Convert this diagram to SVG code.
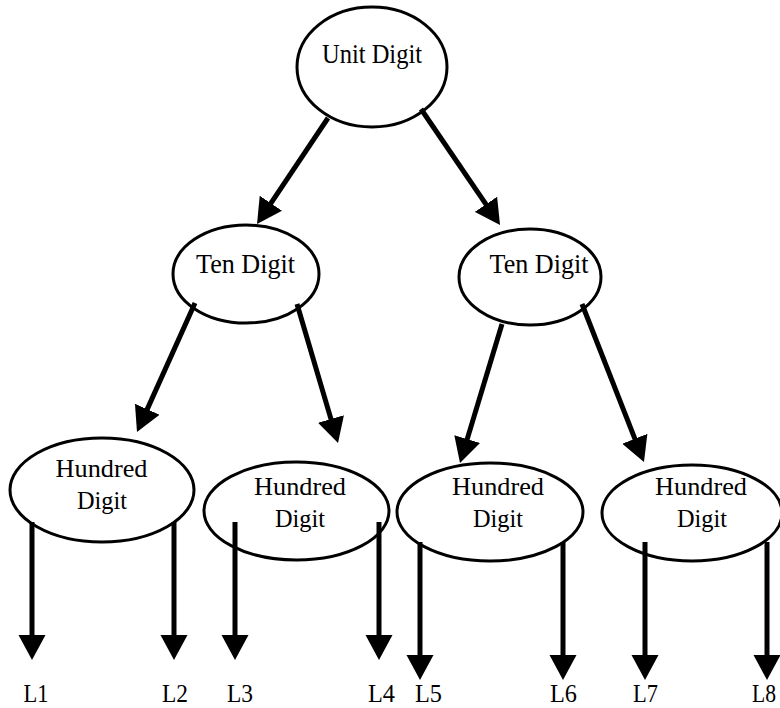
<svg xmlns="http://www.w3.org/2000/svg" width="780" height="708" viewBox="0 0 780 708">
<style>
.node ellipse{fill:#fff;stroke:#000;stroke-width:3}
text{font-family:"Liberation Serif","Times New Roman",serif;fill:#000;text-anchor:middle}
.t1{font-size:27px}
.t2{font-size:26px}
.lab{font-size:26px}
#connectors line{stroke:#000;stroke-width:5;fill:none;marker-end:url(#ah)}
</style>
<defs>
<marker id="ah" markerUnits="userSpaceOnUse" markerWidth="26" markerHeight="28" viewBox="0 0 26 28" refX="15" refY="14" orient="auto">
<path d="M0,0.5 L25,14 L0,27.5 z" fill="#000"/>
</marker>
</defs>
<rect width="780" height="708" fill="#fff"/>
<g id="unit" class="node"><ellipse cx="372" cy="67" rx="75" ry="60"/><text class="t1" x="372" y="63" textLength="100" lengthAdjust="spacingAndGlyphs">Unit Digit</text></g>
<g id="ten1" class="node"><ellipse cx="246" cy="274" rx="73" ry="49"/><text class="t1" x="245.5" y="273" textLength="99" lengthAdjust="spacingAndGlyphs">Ten Digit</text></g>
<g id="ten2" class="node"><ellipse cx="530" cy="277" rx="71" ry="48"/><text class="t1" x="539" y="273" textLength="99" lengthAdjust="spacingAndGlyphs">Ten Digit</text></g>
<g id="h1" class="node"><ellipse cx="102" cy="490" rx="92" ry="52"/><text class="t2" x="101.5" y="477" textLength="92" lengthAdjust="spacingAndGlyphs">Hundred</text><text class="t2" x="102" y="509" textLength="50" lengthAdjust="spacingAndGlyphs">Digit</text></g>
<g id="h2" class="node"><ellipse cx="296.5" cy="511" rx="92.5" ry="49"/><text class="t2" x="300" y="495" textLength="92" lengthAdjust="spacingAndGlyphs">Hundred</text><text class="t2" x="300" y="527" textLength="50" lengthAdjust="spacingAndGlyphs">Digit</text></g>
<g id="h3" class="node"><ellipse cx="490" cy="512" rx="93" ry="49"/><text class="t2" x="498" y="495" textLength="92" lengthAdjust="spacingAndGlyphs">Hundred</text><text class="t2" x="498" y="527" textLength="50" lengthAdjust="spacingAndGlyphs">Digit</text></g>
<g id="h4" class="node"><ellipse cx="692" cy="513" rx="90" ry="48"/><text class="t2" x="701" y="495" textLength="92" lengthAdjust="spacingAndGlyphs">Hundred</text><text class="t2" x="702" y="527" textLength="50" lengthAdjust="spacingAndGlyphs">Digit</text></g>
<g id="connectors">
<line x1="328" y1="118" x2="262.6" y2="215.7"/>
<line x1="421" y1="109" x2="494.4" y2="216.7"/>
<line x1="195" y1="303" x2="141.1" y2="422.9"/>
<line x1="297" y1="304" x2="335.2" y2="433.4"/>
<line x1="502" y1="324" x2="462.9" y2="453.4"/>
<line x1="582" y1="304" x2="640.3" y2="452.7"/>
<line x1="32" y1="522" x2="32" y2="650"/>
<line x1="174" y1="522" x2="174" y2="650"/>
<line x1="235" y1="522" x2="235" y2="650"/>
<line x1="379" y1="522" x2="379" y2="650"/>
<line x1="420" y1="542" x2="420" y2="670"/>
<line x1="563" y1="542" x2="563" y2="670"/>
<line x1="645" y1="542" x2="645" y2="670"/>
<line x1="767" y1="542" x2="767" y2="670"/>
</g>
<g id="labels">
<text class="lab" x="36" y="702" textLength="25" lengthAdjust="spacingAndGlyphs">L1</text>
<text class="lab" x="175" y="702" textLength="26" lengthAdjust="spacingAndGlyphs">L2</text>
<text class="lab" x="240" y="702" textLength="26" lengthAdjust="spacingAndGlyphs">L3</text>
<text class="lab" x="381.5" y="702" textLength="27" lengthAdjust="spacingAndGlyphs">L4</text>
<text class="lab" x="428.5" y="702" textLength="27" lengthAdjust="spacingAndGlyphs">L5</text>
<text class="lab" x="563.5" y="702" textLength="27" lengthAdjust="spacingAndGlyphs">L6</text>
<text class="lab" x="645.5" y="702" textLength="25" lengthAdjust="spacingAndGlyphs">L7</text>
<text class="lab" x="764" y="702" textLength="24" lengthAdjust="spacingAndGlyphs">L8</text>
</g>
</svg>
